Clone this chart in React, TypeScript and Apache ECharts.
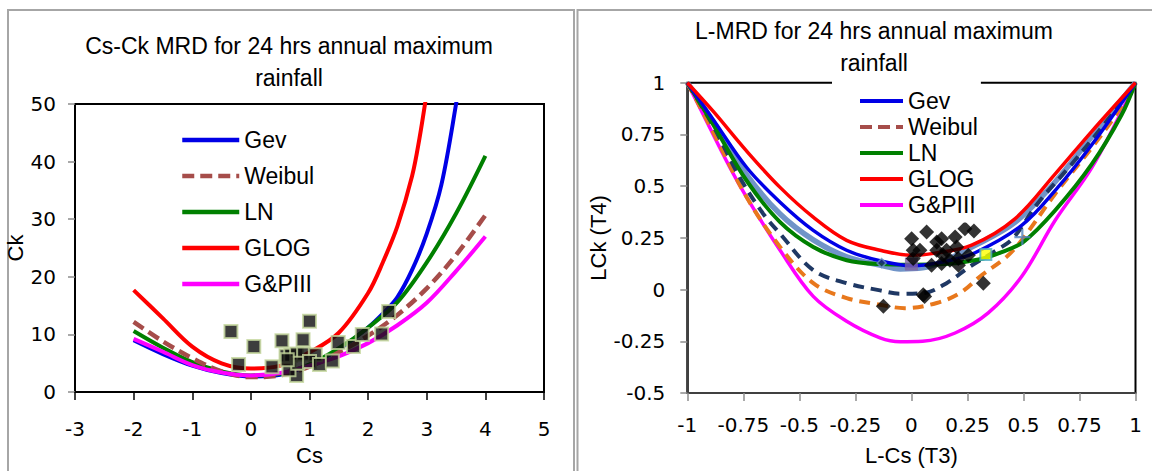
import React, { useEffect, useRef } from "react";
import * as echarts from "echarts";

const FONT = '"Liberation Sans", Arial, sans-serif';
const TICK_FONT = '"DejaVu Sans", sans-serif';

const LEGEND_NAMES = ["Gev", "Weibul", "LN", "GLOG", "G&PIII"];

// ---------- Left chart: Cs-Ck MRD ----------
const LEFT_TITLE = ["Cs-Ck MRD for 24 hrs annual maximum", "rainfall"];
const CS_COMMON = [-2, -1.5, -1, -0.5, 0, 0.5, 1, 1.5, 2, 2.5, 3, 3.5, 4];
const GEV_CS = [-2, -1.5, -1, -0.5, 0, 0.5, 1, 1.5, 2, 2.25, 2.5, 2.75, 3, 3.25, 3.5, 3.6];
const GEV_CK = [9.0, 6.6, 4.6, 3.3, 2.7, 3.0, 4.7, 7.4, 11.2, 13.6, 16.5, 21.2, 27.5, 36, 50, 57];
const GLOG_CS = [-2, -1.5, -1, -0.5, 0, 0.5, 1, 1.5, 2, 2.25, 2.5, 2.75, 2.875, 3.0];
const GLOG_CK = [17.7, 12.8, 7.9, 5.0, 4.1, 4.6, 6.9, 10.3, 17.2, 22.5, 28.8, 37.5, 44, 52];
const LN_CK = [10.6, 7.7, 5.2, 3.6, 2.9, 3.2, 4.8, 7.6, 11.2, 15.6, 22.5, 31, 41];
const WEIBUL_CK = [12.2, 8.8, 5.9, 3.6, 2.6, 2.9, 4.4, 6.9, 9.8, 13.4, 18.0, 23.8, 30.7];
const GP3_CK = [9.25, 7.0, 4.7, 3.4, 2.9, 3.3, 4.6, 6.2, 8.5, 11.6, 15.5, 21.0, 27.0];
const OBS_CS = [-0.34, 0.05, -0.21, 0.36, 0.53, 1.0, 0.89, 0.78, 0.6, 0.68, 0.78, 0.9, 1.1, 0.65, 0.8, 1.0, 1.17, 1.39, 1.49, 1.75, 1.9, 2.23, 2.35, 0.62];
const OBS_CK = [10.5, 7.9, 4.8, 4.4, 8.9, 12.3, 9.1, 2.9, 6.3, 6.4, 6.6, 6.6, 6.5, 3.9, 5.0, 5.3, 4.8, 5.4, 8.6, 7.9, 10.0, 10.1, 14.0, 5.6];

// ---------- Right chart: L-MRD ----------
const RIGHT_TITLE = ["L-MRD for 24 hrs annual maximum", "rainfall"];
const GLOG_T3 = [-1, -0.884, -0.735, -0.586, -0.438, -0.289, -0.14, 0, 0.1, 0.269, 0.462, 0.641, 0.805, 1];
const GLOG_T4 = [1, 0.861, 0.669, 0.494, 0.35, 0.238, 0.19, 0.166, 0.175, 0.215, 0.342, 0.558, 0.765, 1];
const GEV_T3 = [-1, -0.884, -0.735, -0.586, -0.438, -0.289, -0.14, 0, 0.15, 0.284, 0.492, 0.641, 0.805, 1];
const GEV_T4 = [1, 0.821, 0.59, 0.422, 0.286, 0.19, 0.139, 0.115, 0.135, 0.178, 0.31, 0.478, 0.7, 1];
const LN_T3 = [-1, -0.884, -0.735, -0.586, -0.438, -0.289, -0.14, 0, 0.15, 0.3, 0.4, 0.5, 0.641, 0.805, 0.938, 1];
const LN_T4 = [1, 0.797, 0.526, 0.326, 0.206, 0.142, 0.123, 0.12, 0.123, 0.145, 0.18, 0.23, 0.382, 0.606, 0.845, 1];
const GP3_T3 = [-1, -0.943, -0.81, -0.735, -0.586, -0.438, -0.289, -0.14, -0.05, 0.05, 0.195, 0.343, 0.492, 0.641, 0.805, 0.953, 1];
const GP3_T4 = [1, 0.877, 0.59, 0.446, 0.19, -0.033, -0.153, -0.233, -0.252, -0.25, -0.21, -0.113, 0.063, 0.334, 0.59, 0.893, 1];
const PE_T3 = [-1, -0.884, -0.735, -0.586, -0.438, -0.289, -0.14, -0.05, 0.05, 0.15, 0.269, 0.462, 0.641, 0.805, 1];
const PE_T4 = [1, 0.81, 0.555, 0.365, 0.24, 0.158, 0.118, 0.1, 0.105, 0.14, 0.205, 0.325, 0.52, 0.74, 1];
const NAVY_T3 = [-1, -0.884, -0.765, -0.661, -0.586, -0.438, -0.289, -0.14, -0.05, 0.053, 0.157, 0.261, 0.38, 0.455, 0.566, 0.715, 0.894, 1];
const NAVY_T4 = [1, 0.79, 0.54, 0.366, 0.27, 0.094, 0.031, -0.004, -0.02, -0.017, 0.031, 0.111, 0.19, 0.25, 0.42, 0.606, 0.845, 1];
const ORANGE_T3 = [-1, -0.884, -0.735, -0.586, -0.438, -0.289, -0.14, -0.03, 0.113, 0.217, 0.306, 0.425, 0.492, 0.641, 0.805, 0.923, 1];
const ORANGE_T4 = [1, 0.76, 0.446, 0.206, 0.031, -0.041, -0.073, -0.09, -0.065, -0.017, 0.063, 0.159, 0.238, 0.462, 0.686, 0.861, 1];
const OBS_T3 = [0.001, 0.068, 0.008, 0.038, 0.008, 0.135, 0.195, 0.239, 0.279, 0.113, 0.157, 0.202, 0.09, 0.135, 0.172, 0.209, 0.254, 0.142, 0.321, 0.053, -0.125, 0.113, 0.21, 0.059];
const OBS_T4 = [0.246, 0.278, 0.19, 0.19, 0.15, 0.246, 0.254, 0.294, 0.283, 0.19, 0.19, 0.206, 0.118, 0.126, 0.142, 0.15, 0.166, 0.166, 0.031, -0.025, -0.081, 0.23, 0.118, -0.033];
const PT_SMALL_DIAMOND = [-0.133, 0.128];
const PT_PURPLE = [0.0, 0.123];
const PT_YELLOW = [0.332, 0.17];
const PT_PLUS = [0.495, 0.254];

const zip = (xs: number[], ys: number[]) => xs.map((x, i) => [x, ys[i]]);

function lineSeries(name: string, data: number[][], color: string, axis: number, extra: any = {}) {
  return {
    type: "line",
    name,
    data,
    xAxisIndex: axis,
    yAxisIndex: axis,
    symbol: "none",
    showSymbol: false,
    smooth: 0.35,
    clip: true,
    emphasis: { disabled: true },
    lineStyle: { color, width: 4, ...(extra.lineStyle || {}) },
    itemStyle: { color },
    z: extra.z ?? 2,
  };
}

function buildOption() {
  const axisLabel = (margin: number) => ({
    fontSize: 20,
    fontFamily: TICK_FONT,
    color: "#000",
    margin,
  });
  const nameStyle = {
    fontSize: 22,
    fontFamily: FONT,
    color: "#000",
    align: "center",
    verticalAlign: "middle",
  };
  const titleText = (text: string, x: number, y: number) => ({
    type: "text",
    x,
    y,
    silent: true,
    style: {
      text,
      fontSize: 23,
      fontFamily: FONT,
      fill: "#000",
      align: "center",
      verticalAlign: "middle",
    },
  });

  return {
    animation: false,
    backgroundColor: "#fff",
    graphic: [
      {
        type: "rect",
        silent: true,
        shape: { x: 8, y: 10, width: 566, height: 480 },
        style: { fill: "none", stroke: "#a6a6a6", lineWidth: 2 },
      },
      {
        type: "rect",
        silent: true,
        shape: { x: 577.5, y: 10, width: 600, height: 480 },
        style: { fill: "none", stroke: "#a6a6a6", lineWidth: 2 },
      },
      titleText(LEFT_TITLE[0], 289, 46),
      titleText(LEFT_TITLE[1], 289, 78),
      titleText(RIGHT_TITLE[0], 874, 31),
      titleText(RIGHT_TITLE[1], 874, 62.5),
    ],
    legend: [
      {
        orient: "vertical",
        left: 180,
        top: 128.5,
        padding: 0,
        itemWidth: 57,
        itemHeight: 14,
        itemGap: 13,
        selectedMode: false,
        itemStyle: { opacity: 0 },
        lineStyle: { width: 4.5 },
        textStyle: { fontSize: 23, fontFamily: FONT, color: "#000" },
        data: LEGEND_NAMES,
      },
      {
        orient: "vertical",
        left: 832,
        top: 77.5,
        padding: [12, 3, 6, 26],
        backgroundColor: "#fff",
        itemWidth: 43,
        itemHeight: 14,
        itemGap: 3,
        selectedMode: false,
        itemStyle: { opacity: 0 },
        lineStyle: { width: 4 },
        textStyle: { fontSize: 23, fontFamily: FONT, color: "#000" },
        data: LEGEND_NAMES,
        z: 10,
      },
    ],
    grid: [
      {
        left: 75,
        top: 104,
        width: 469,
        height: 301,
        show: true,
        borderColor: "#000",
        borderWidth: 2,
        backgroundColor: "transparent",
      },
      {
        left: 687.3,
        top: 82.7,
        width: 448.2,
        height: 313,
        show: true,
        borderColor: "#000",
        borderWidth: 2,
        backgroundColor: "transparent",
      },
    ],
    xAxis: [
      {
        type: "value",
        gridIndex: 0,
        min: -3,
        max: 5,
        interval: 1,
        name: "Cs",
        nameLocation: "middle",
        nameGap: 57,
        nameTextStyle: nameStyle,
        axisLine: { show: true, onZero: false, lineStyle: { color: "#000", width: 2 } },
        axisTick: { show: true, length: 8, lineStyle: { color: "#000", width: 1.5 } },
        axisLabel: axisLabel(27),
        splitLine: { show: false },
      },
      {
        type: "value",
        gridIndex: 1,
        min: -1,
        max: 1,
        interval: 0.25,
        name: "L-Cs (T3)",
        nameLocation: "middle",
        nameGap: 62,
        nameTextStyle: nameStyle,
        axisLine: { show: true, onZero: false, lineStyle: { color: "#404040", width: 2 } },
        axisTick: { show: true, length: 8, lineStyle: { color: "#8c8c8c", width: 1.5 } },
        axisLabel: axisLabel(22),
        splitLine: { show: false },
      },
    ],
    yAxis: [
      {
        type: "value",
        gridIndex: 0,
        min: 0,
        max: 50,
        interval: 10,
        name: "Ck",
        nameLocation: "middle",
        nameGap: 52,
        nameTextStyle: nameStyle,
        axisLine: { show: true, onZero: false, lineStyle: { color: "#000", width: 2 } },
        axisTick: { show: true, length: 7, lineStyle: { color: "#8c8c8c", width: 1.5 } },
        axisLabel: axisLabel(19),
        splitLine: { show: false },
      },
      {
        type: "value",
        gridIndex: 1,
        min: -0.5,
        max: 1,
        interval: 0.25,
        name: "LCk (T4)",
        nameLocation: "middle",
        nameGap: 87,
        nameTextStyle: nameStyle,
        axisLine: { show: true, onZero: false, lineStyle: { color: "#404040", width: 2 } },
        axisTick: { show: true, length: 7, lineStyle: { color: "#8c8c8c", width: 1.5 } },
        axisLabel: axisLabel(22),
        splitLine: { show: false },
      },
    ],
    series: [
      // Left chart
      lineSeries("Gev", zip(GEV_CS, GEV_CK), "#0000e6", 0),
      lineSeries("LN", zip(CS_COMMON, LN_CK), "#008000", 0),
      lineSeries("Weibul", zip(CS_COMMON, WEIBUL_CK), "#a64d4a", 0, {
        lineStyle: { type: [12, 6], width: 4.5 },
      }),
      lineSeries("GLOG", zip(GLOG_CS, GLOG_CK), "#ff0000", 0),
      lineSeries("G&PIII", zip(CS_COMMON, GP3_CK), "#ff00ff", 0),
      {
        type: "scatter",
        name: "Observed (Cs, Ck)",
        xAxisIndex: 0,
        yAxisIndex: 0,
        data: zip(OBS_CS, OBS_CK),
        symbol: "rect",
        symbolSize: 13,
        itemStyle: { color: "#0d0d0d", borderColor: "#c3d69b", borderWidth: 2 },
        emphasis: { disabled: true },
        z: 5,
      },
      // Right chart
      lineSeries("PE3", zip(PE_T3, PE_T4), "#7094c8", 1, { lineStyle: { width: 5.5 }, z: 1 }),
      lineSeries("G&PIII", zip(GP3_T3, GP3_T4), "#ff00ff", 1, { lineStyle: { width: 3.5 } }),
      lineSeries("Weibul 3P", zip(ORANGE_T3, ORANGE_T4), "#e8781c", 1, {
        lineStyle: { type: [11, 7], width: 4 },
      }),
      lineSeries("Weibul 2P", zip(NAVY_T3, NAVY_T4), "#1f3864", 1, {
        lineStyle: { type: [11, 7], width: 4 },
      }),
      lineSeries("LN", zip(LN_T3, LN_T4), "#008000", 1, { lineStyle: { width: 4 } }),
      lineSeries("Gev", zip(GEV_T3, GEV_T4), "#0000e6", 1, { lineStyle: { width: 3.5 } }),
      lineSeries("GLOG", zip(GLOG_T3, GLOG_T4), "#ff0000", 1, { lineStyle: { width: 3.5 } }),
      {
        type: "scatter",
        name: "Gumbel",
        xAxisIndex: 1,
        yAxisIndex: 1,
        data: [PT_SMALL_DIAMOND],
        symbol: "diamond",
        symbolSize: 9,
        itemStyle: { color: "#1f3864", borderColor: "#6d96c9", borderWidth: 1.5 },
        emphasis: { disabled: true },
        z: 4,
      },
      {
        type: "scatter",
        name: "Normal",
        xAxisIndex: 1,
        yAxisIndex: 1,
        data: [PT_PURPLE],
        symbol: "rect",
        symbolSize: 13,
        itemStyle: { color: "#8064a2" },
        emphasis: { disabled: true },
        z: 4,
      },
      {
        type: "scatter",
        name: "Observed (T3, T4)",
        xAxisIndex: 1,
        yAxisIndex: 1,
        data: zip(OBS_T3, OBS_T4),
        symbol: "diamond",
        symbolSize: 15,
        itemStyle: { color: "#000" },
        emphasis: { disabled: true },
        z: 5,
      },
      {
        type: "scatter",
        name: "Exponential",
        xAxisIndex: 1,
        yAxisIndex: 1,
        data: [PT_YELLOW],
        symbol: "rect",
        symbolSize: 11,
        itemStyle: { color: "#ffff00", borderColor: "#4bacc6", borderWidth: 2 },
        emphasis: { disabled: true },
        z: 6,
      },
      {
        type: "scatter",
        name: "Uniform",
        xAxisIndex: 1,
        yAxisIndex: 1,
        data: [PT_PLUS],
        symbol: "path://M4.3,0H5.7V4.3H10V5.7H5.7V10H4.3V5.7H0V4.3H4.3Z",
        symbolSize: 16,
        itemStyle: { color: "#4f81bd" },
        emphasis: { disabled: true },
        z: 6,
      },
    ],
  };
}

export default function App() {
  const ref = useRef<HTMLDivElement>(null);
  useEffect(() => {
    if (!ref.current) return;
    const chart = echarts.init(ref.current, null, { renderer: "svg" });
    chart.setOption(buildOption() as any);
    return () => chart.dispose();
  }, []);
  return (
    <div
      ref={ref}
      style={{ position: "absolute", left: 0, top: 0, width: 1152, height: 471, background: "#fff" }}
    />
  );
}
